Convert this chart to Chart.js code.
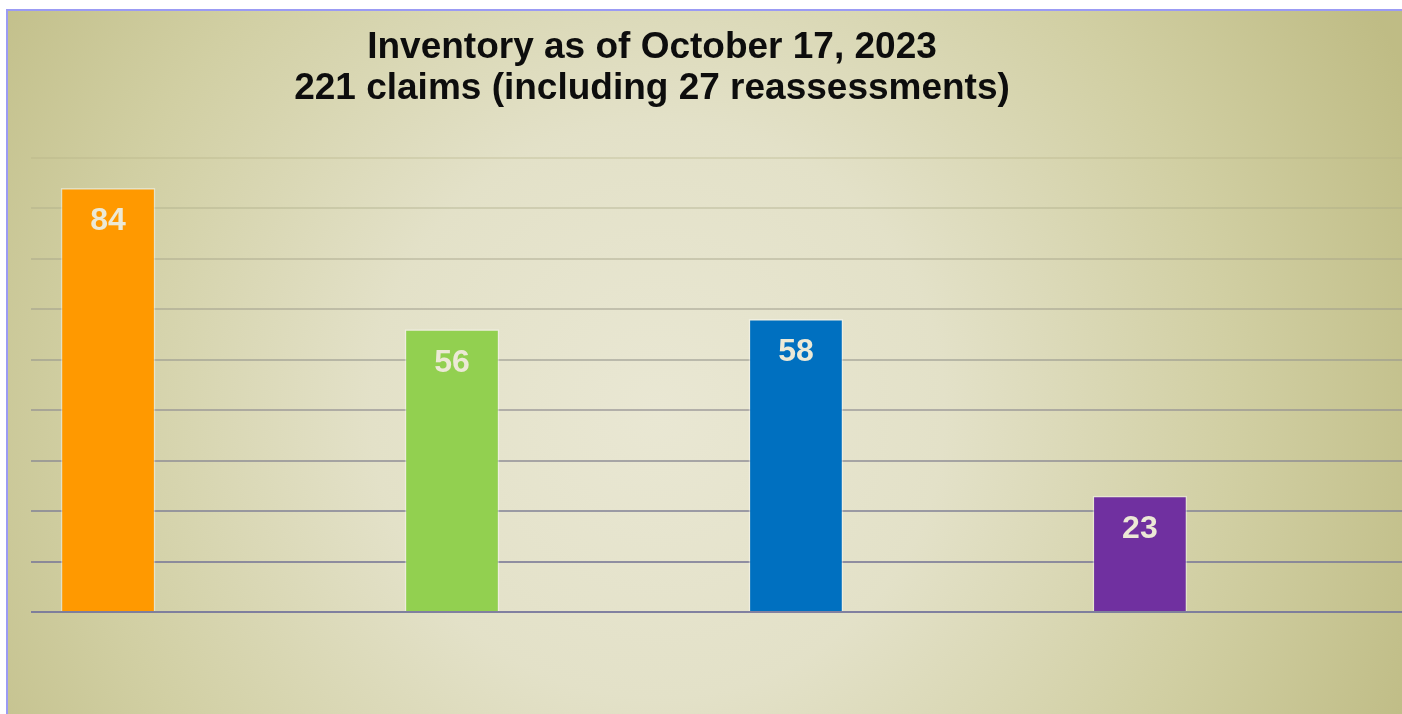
<!DOCTYPE html>
<html>
<head>
<meta charset="utf-8">
<script src="https://cdn.jsdelivr.net/npm/chart.js@4/dist/chart.umd.min.js"></script>
<style>
  html, body { margin: 0; padding: 0; background: #fff; overflow: hidden; width: 1402px; height: 714px; }
  #frame {
    position: absolute; left: 6px; top: 9px;
    border-top: 2px solid #9b9bf4; border-left: 2px solid #9b9bf4;
    width: 1394px; height: 703px;
  }
  canvas { display: block; }
</style>
</head>
<body>
<div id="frame"><canvas id="myChart" width="1394" height="703"></canvas></div>
<script>
// chart data
const categories = ['Group 1', 'Group 2', 'Group 3', 'Group 4']
const claimCounts = [84, 56, 58, 23]
const barColors = ['#FF9900', '#92D050', '#0070C0', '#7030A0']
const titleLines = ['Inventory as of October 17, 2023', '221 claims (including 27 reassessments)']
const yMax = 90
const yStep = 10

const FONT = "Arial, 'Liberation Sans', sans-serif"

// soft radial background like the office chart fill
const backgroundPlugin = {
  id: 'bgFill',
  beforeDraw: (chart) => {
    const { ctx, width, height } = chart
    const g = ctx.createRadialGradient(650, 400, 0, 650, 400, 820)
    g.addColorStop(0, '#e9e7d3')
    g.addColorStop(0.35, '#e3e1c8')
    g.addColorStop(0.7, '#d1cfa3')
    g.addColorStop(1, '#bfbc85')
    ctx.save()
    ctx.fillStyle = g
    ctx.fillRect(0, 0, width, height)
    ctx.restore()
  }
}

// two-line title, centred a bit left of the canvas middle
const titlePlugin = {
  id: 'twoLineTitle',
  afterDraw: (chart) => {
    const { ctx } = chart
    ctx.save()
    ctx.font = 'bold 37px ' + FONT
    ctx.fillStyle = '#0d0d0d'
    ctx.textAlign = 'center'
    ctx.textBaseline = 'alphabetic'
    ctx.fillText(titleLines[0], 644, 47)
    ctx.fillText(titleLines[1], 644, 88)
    ctx.restore()
  }
}

// value labels inside the top of each bar
const valueLabelPlugin = {
  id: 'valueLabels',
  afterDatasetsDraw: (chart) => {
    const { ctx } = chart
    const meta = chart.getDatasetMeta(0)
    ctx.save()
    ctx.font = 'bold 32px ' + FONT
    ctx.fillStyle = '#ECE9D6'
    ctx.textAlign = 'center'
    ctx.textBaseline = 'alphabetic'
    meta.data.forEach((bar, i) => {
      ctx.fillText(String(claimCounts[i]), bar.x, bar.y + 42)
    })
    ctx.restore()
  }
}

const gridColor = (c) => {
  const t = (c.tick && typeof c.tick.value === 'number') ? c.tick.value / yMax : 0
  const r = Math.round(118 + (178 - 118) * t)
  const gg = Math.round(118 + (175 - 118) * t)
  const b = Math.round(155 + (132 - 155) * t)
  const a = 0.9 - 0.6 * t
  return `rgba(${r},${gg},${b},${a})`
}

const config = {
  type: 'bar',
  data: {
    datasets: [{
      label: 'Claims',
      data: claimCounts.map((v, i) => ({ x: i, y: v, name: categories[i] })),
      backgroundColor: barColors,
      borderColor: 'rgba(255,255,255,0.4)',
      borderWidth: 1.5,
      barThickness: 94
    }]
  },
  options: {
    responsive: false,
    animation: false,
    devicePixelRatio: 1,
    layout: { padding: { left: 23, top: 147, right: 0, bottom: 102 } },
    plugins: {
      legend: { display: false },
      title: { display: false },
      tooltip: { enabled: false }
    },
    scales: {
      x: {
        type: 'linear',
        offset: false,
        min: -0.224,
        max: 3.762,
        display: false
      },
      y: {
        min: 0,
        max: yMax,
        ticks: { display: false, stepSize: yStep },
        border: { display: false },
        grid: { color: gridColor, lineWidth: 2, drawTicks: false, tickLength: 0 }
      }
    }
  },
  plugins: [backgroundPlugin, valueLabelPlugin, titlePlugin]
}

const ctx = document.getElementById('myChart').getContext('2d')
const myChart = new Chart(ctx, config)
</script>
</body>
</html>
